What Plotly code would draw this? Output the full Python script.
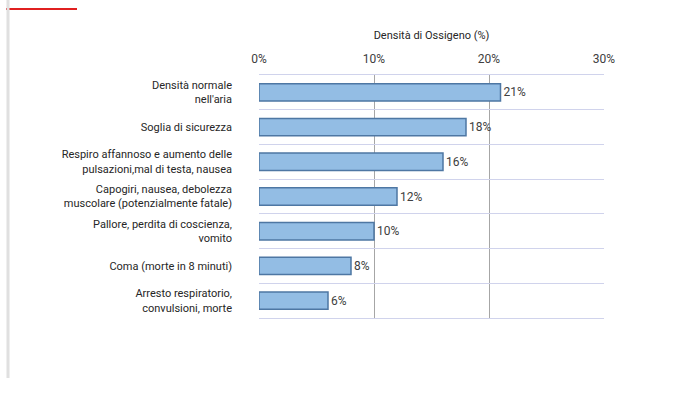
import plotly.graph_objects as go

categories = [
    "Densità normale<br>nell'aria",
    "Soglia di sicurezza",
    "Respiro affannoso e aumento delle<br>pulsazioni,mal di testa, nausea",
    "Capogiri, nausea, debolezza<br>muscolare (potenzialmente fatale)",
    "Pallore, perdita di coscienza,<br>vomito",
    "Coma (morte in 8 minuti)",
    "Arresto respiratorio,<br>convulsioni, morte",
]
values = [21, 18, 16, 12, 10, 8, 6]
labels = ["21%", "18%", "16%", "12%", "10%", "8%", "6%"]
tick_vals = [0, 10, 20, 30]
tick_text = ["0%", "10%", "20%", "30%"]

fig = go.Figure()
fig.add_trace(go.Bar(
    y=categories,
    x=values,
    orientation="h",
    width=0.5,
    marker=dict(color="#93bde4", line=dict(color="#4e77a3", width=1.5)),
    text=labels,
    textposition="outside",
    textfont=dict(family="Roboto", size=12, color="#404040"),
    cliponaxis=False,
    hoverinfo="skip",
))

fig.update_layout(
    width=686, height=396,
    margin=dict(l=259, r=82, t=75, b=78),
    paper_bgcolor="white", plot_bgcolor="white",
    showlegend=False,
    font=dict(family="Roboto", size=11, color="#262626"),
    xaxis=dict(
        side="top",
        range=[0, 30],
        tickvals=tick_vals,
        ticktext=tick_text,
        tickfont=dict(size=12, color="#404040"),
        showgrid=True, gridcolor="#a6a6a6", gridwidth=1,
        zeroline=False,
        showline=True, mirror=True, linecolor="#d0d3ec", linewidth=1,
        ticks="",
        ticklabelstandoff=6,
        title=dict(text="Densità di Ossigeno (%)", font=dict(size=11, color="#262626"), standoff=10),
    ),
    yaxis=dict(
        type="category",
        autorange="reversed",
        tickson="boundaries",
        showgrid=True, gridcolor="#d0d3ec", gridwidth=1,
        ticks="",
        ticklabelstandoff=26,
        tickfont=dict(size=11, color="#262626"),
        showline=False,
        zeroline=False,
    ),
)

# decorative frame elements
fig.add_shape(type="line", xref="paper", yref="paper",
              x0=-253/345, x1=-182/345, y0=1 + 66/243, y1=1 + 66/243,
              line=dict(color="#e02020", width=2))
fig.add_shape(type="line", xref="paper", yref="paper",
              x0=-251/345, x1=-251/345, y0=1 + 75/243, y1=-60/243,
              line=dict(color="#e0e0e0", width=3))

fig.write_html("out.html")
